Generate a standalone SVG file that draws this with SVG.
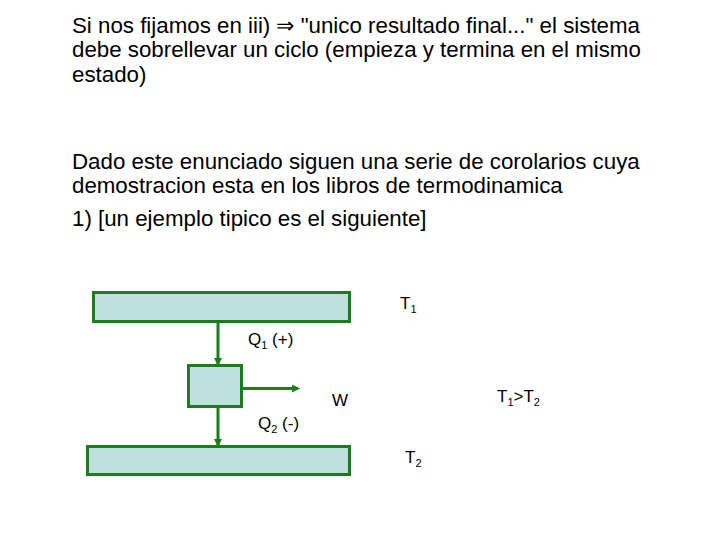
<svg xmlns="http://www.w3.org/2000/svg" width="720" height="540" viewBox="0 0 720 540">
<style>
.t{font-family:"Liberation Sans",Arial,sans-serif;font-size:22.3px;fill:#000}
.l{font-family:"Liberation Sans",Arial,sans-serif;font-size:17px;fill:#000}
.s{font-size:11px}
.b{fill:#bfe0e0;stroke:#1b7d1b;stroke-width:3}
.c{stroke:#1b7d1b;stroke-width:3;fill:none}
</style>
<defs>
<marker id="ah" markerWidth="8" markerHeight="8" refX="6" refY="4" orient="auto" markerUnits="userSpaceOnUse">
<path d="M0,0 L8,4 L0,8 Z" fill="#1b7d1b"/>
</marker>
</defs>
<rect width="720" height="540" fill="#fff"/>
<text class="t" x="72" y="33">Si nos fijamos en iii) ⇒ "unico resultado final..." el sistema</text>
<text class="t" x="72" y="57">debe sobrellevar un ciclo (empieza y termina en el mismo</text>
<text class="t" x="72" y="82">estado)</text>
<text class="t" x="72" y="169">Dado este enunciado siguen una serie de corolarios cuya</text>
<text class="t" x="72" y="193">demostracion esta en los libros de termodinamica</text>
<text class="t" x="72" y="226">1) [un ejemplo tipico es el siguiente]</text>
<g id="hot"><rect class="b" x="93.5" y="292.5" width="256" height="29"/></g>
<g id="engine"><rect class="b" x="188.5" y="365.5" width="53" height="41"/></g>
<g id="cold"><rect class="b" x="87.5" y="446.5" width="262" height="28"/></g>
<g id="connectors">
<line class="c" x1="218" y1="322" x2="218" y2="364" marker-end="url(#ah)"/>
<line class="c" x1="218" y1="407" x2="218" y2="445" marker-end="url(#ah)"/>
<line class="c" x1="242" y1="388.5" x2="298" y2="388.5" marker-end="url(#ah)"/>
</g>
<text class="l" x="400" y="309">T<tspan class="s" dy="4">1</tspan></text>
<text class="l" x="248" y="345">Q<tspan class="s" dy="4">1</tspan><tspan dy="-4"> (+)</tspan></text>
<text class="l" x="332" y="406">W</text>
<text class="l" x="497" y="402">T<tspan class="s" dy="4">1</tspan><tspan dy="-4">&gt;T</tspan><tspan class="s" dy="4">2</tspan></text>
<text class="l" x="258" y="429">Q<tspan class="s" dy="4">2</tspan><tspan dy="-4"> (-)</tspan></text>
<text class="l" x="405" y="463">T<tspan class="s" dy="4">2</tspan></text>
</svg>
